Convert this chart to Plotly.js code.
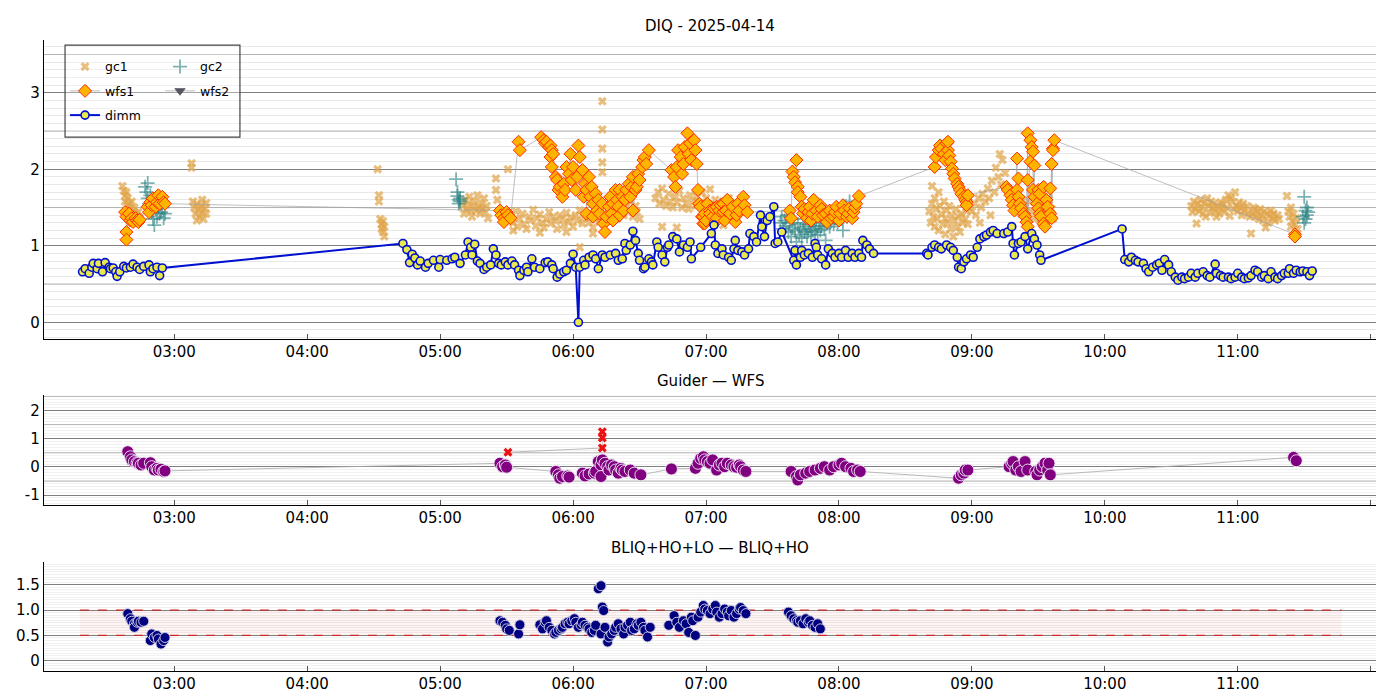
<!DOCTYPE html>
<html>
<head>
<meta charset="utf-8">
<script src="https://cdn.plot.ly/plotly-3.0.1.min.js"></script>
<style>
  html, body { margin: 0; padding: 0; background: #fff; }
  #chart { width: 1400px; height: 700px; }
</style>
</head>
<body>
<div id="chart"></div>
<script>
// times are decimal hours UT on 2025-04-14
const HOUR_TICKS = [3, 4, 5, 6, 7, 8, 9, 10, 11, 12]
const HOUR_LABELS = ['03:00', '04:00', '05:00', '06:00', '07:00', '08:00', '09:00', '10:00', '11:00', '']
const NIGHT = [2.29, 11.78]
const BLIQ_BAND = [0.5, 1.0]
const X_RANGE = [2.02, 12.04]

// [time, value]
const dimm = [
  [2.31, 0.66], [2.33, 0.70], [2.36, 0.64], [2.38, 0.72], [2.39, 0.77], [2.42, 0.70], [2.43, 0.77], [2.46, 0.66],
  [2.48, 0.78], [2.51, 0.72], [2.52, 0.70], [2.54, 0.71], [2.56, 0.66], [2.57, 0.60], [2.59, 0.66], [2.62, 0.73],
  [2.64, 0.71], [2.67, 0.72], [2.69, 0.76], [2.72, 0.72], [2.74, 0.69], [2.77, 0.73], [2.81, 0.75], [2.82, 0.66],
  [2.84, 0.70], [2.87, 0.72], [2.89, 0.61], [2.91, 0.71],
  [4.72, 1.03], [4.75, 0.95], [4.77, 0.78], [4.79, 0.89], [4.81, 0.84], [4.83, 0.75], [4.85, 0.80], [4.89, 0.72],
  [4.91, 0.77], [4.95, 0.81], [4.99, 0.72], [5.00, 0.82], [5.05, 0.81], [5.09, 0.83], [5.11, 0.85], [5.15, 0.77],
  [5.19, 0.88], [5.21, 1.05], [5.23, 0.98], [5.24, 0.88], [5.26, 1.02], [5.28, 0.80], [5.30, 0.77], [5.33, 0.69],
  [5.35, 0.72], [5.38, 0.75], [5.40, 0.96], [5.42, 0.88], [5.44, 0.77], [5.46, 0.75], [5.49, 0.79], [5.51, 0.75],
  [5.54, 0.80], [5.56, 0.75], [5.59, 0.68], [5.60, 0.61], [5.63, 0.68], [5.65, 0.72], [5.66, 0.66], [5.69, 0.83],
  [5.71, 0.72], [5.75, 0.70], [5.79, 0.78], [5.81, 0.79], [5.84, 0.75], [5.85, 0.70], [5.88, 0.59], [5.90, 0.63],
  [5.93, 0.66], [5.95, 0.68], [5.98, 0.77], [6.00, 0.89], [6.02, 0.72], [6.04, 0.00], [6.05, 0.72], [6.08, 0.81],
  [6.09, 0.75], [6.12, 0.85], [6.15, 0.88], [6.17, 0.83], [6.19, 0.70], [6.22, 0.88], [6.24, 0.85], [6.28, 0.88],
  [6.32, 0.90], [6.34, 0.81], [6.37, 0.83], [6.39, 1.03], [6.40, 0.94], [6.43, 1.01], [6.45, 1.19], [6.47, 1.07],
  [6.49, 0.90], [6.50, 0.81], [6.53, 0.70], [6.54, 0.72], [6.57, 0.83], [6.59, 0.79], [6.60, 0.75], [6.63, 1.05],
  [6.64, 0.98], [6.67, 0.88], [6.69, 0.79], [6.71, 0.98], [6.72, 1.01], [6.75, 1.12], [6.78, 1.09], [6.80, 0.92],
  [6.83, 1.01], [6.86, 0.98], [6.88, 1.05], [6.89, 0.83],
  [6.96, 0.98], [7.04, 1.16], [7.06, 1.27], [7.07, 1.01], [7.09, 0.90], [7.12, 0.96], [7.13, 0.88], [7.17, 0.85],
  [7.19, 0.81], [7.21, 0.96], [7.22, 1.07], [7.24, 0.94], [7.27, 0.92], [7.29, 0.88], [7.32, 0.96], [7.33, 1.16],
  [7.36, 1.12], [7.38, 1.05], [7.41, 1.40], [7.42, 1.25], [7.44, 1.12], [7.46, 1.33], [7.48, 1.38], [7.51, 1.51],
  [7.52, 1.03], [7.54, 1.05], [7.57, 1.18],
  [7.66, 0.81], [7.67, 0.94], [7.68, 0.75], [7.71, 0.85], [7.72, 0.94], [7.74, 0.88], [7.77, 0.90], [7.80, 0.85],
  [7.82, 1.03], [7.83, 0.98], [7.84, 0.88], [7.87, 0.83], [7.90, 0.75], [7.92, 0.96], [7.95, 0.90], [7.97, 0.85],
  [8.00, 0.90], [8.02, 0.85], [8.05, 0.94], [8.07, 0.85], [8.10, 0.90], [8.12, 0.85], [8.15, 0.90], [8.17, 0.85],
  [8.18, 1.07], [8.21, 1.01], [8.23, 0.96], [8.26, 0.90],
  [8.66, 0.90], [8.67, 0.88], [8.70, 0.98], [8.72, 1.01], [8.75, 0.98], [8.77, 0.96], [8.81, 1.01], [8.84, 0.98],
  [8.86, 0.94], [8.89, 0.85], [8.90, 0.72], [8.92, 0.70], [8.94, 0.79], [8.96, 0.83], [8.99, 0.88], [9.01, 0.85],
  [9.04, 0.98], [9.06, 1.09], [9.09, 1.12], [9.11, 1.14], [9.14, 1.18], [9.16, 1.20], [9.19, 1.16], [9.24, 1.16],
  [9.27, 1.18], [9.30, 1.25], [9.31, 1.03], [9.32, 0.88], [9.35, 1.03], [9.37, 1.05], [9.40, 1.12], [9.42, 0.96],
  [9.45, 1.16], [9.47, 1.09], [9.49, 1.01], [9.51, 0.88], [9.52, 0.81],
  [10.13, 1.22], [10.15, 0.82], [10.18, 0.79], [10.20, 0.85], [10.23, 0.81], [10.25, 0.79], [10.29, 0.77], [10.31, 0.70],
  [10.33, 0.66], [10.36, 0.72], [10.39, 0.75], [10.41, 0.77], [10.43, 0.68], [10.45, 0.82], [10.48, 0.75], [10.50, 0.66],
  [10.53, 0.59], [10.55, 0.55], [10.58, 0.59], [10.60, 0.57], [10.63, 0.59], [10.65, 0.64], [10.68, 0.59], [10.70, 0.64],
  [10.74, 0.66], [10.77, 0.61], [10.79, 0.59], [10.83, 0.76], [10.84, 0.64], [10.87, 0.61], [10.89, 0.59], [10.93, 0.59],
  [10.95, 0.57], [10.98, 0.59], [11.00, 0.64], [11.03, 0.59], [11.05, 0.57], [11.08, 0.58], [11.10, 0.61], [11.13, 0.68],
  [11.15, 0.66], [11.18, 0.59], [11.20, 0.61], [11.23, 0.57], [11.25, 0.66], [11.28, 0.59], [11.30, 0.57], [11.33, 0.61],
  [11.35, 0.64], [11.38, 0.64], [11.39, 0.70], [11.42, 0.64], [11.44, 0.68], [11.47, 0.66], [11.49, 0.67], [11.52, 0.66],
  [11.54, 0.61], [11.56, 0.67]
]

const gc1 = [
  [2.61, 1.78], [2.62, 1.72], [2.63, 1.65], [2.63, 1.58], [2.64, 1.70], [2.65, 1.62], [2.65, 1.52], [2.66, 1.55],
  [2.67, 1.48], [2.68, 1.58], [2.69, 1.45], [2.70, 1.50], [2.71, 1.42], [2.72, 1.38], [2.73, 1.44], [2.74, 1.36],
  [3.13, 2.08], [3.13, 2.02], [3.14, 1.58], [3.15, 1.50], [3.16, 1.42], [3.17, 1.55], [3.17, 1.33], [3.18, 1.47],
  [3.19, 1.38], [3.20, 1.52], [3.21, 1.44], [3.21, 1.60], [3.22, 1.35], [3.23, 1.49], [3.24, 1.56], [3.24, 1.42],
  [4.53, 2.00], [4.54, 1.66], [4.54, 1.58], [4.55, 1.35], [4.56, 1.28], [4.56, 1.22], [4.57, 1.32], [4.57, 1.18],
  [4.58, 1.25], [4.58, 1.12],
  [5.17, 1.52], [5.18, 1.42], [5.19, 1.60], [5.20, 1.48], [5.21, 1.55], [5.22, 1.64], [5.23, 1.45], [5.24, 1.38],
  [5.25, 1.52], [5.26, 1.58], [5.27, 1.46], [5.28, 1.66], [5.29, 1.50], [5.30, 1.42], [5.31, 1.55], [5.32, 1.48],
  [5.33, 1.62], [5.34, 1.44], [5.35, 1.52], [5.36, 1.36],
  [5.42, 1.88], [5.42, 1.73], [5.43, 1.60], [5.51, 2.00],
  [5.53, 1.38], [5.55, 1.30], [5.55, 1.20], [5.57, 1.45], [5.58, 1.25], [5.60, 1.35], [5.62, 1.42], [5.63, 1.28],
  [5.65, 1.22], [5.67, 1.38], [5.68, 1.33], [5.70, 1.47], [5.72, 1.26], [5.73, 1.36], [5.75, 1.41], [5.75, 1.17],
  [5.77, 1.30], [5.78, 1.24], [5.80, 1.35], [5.82, 1.44], [5.83, 1.29], [5.85, 1.38], [5.87, 1.32], [5.88, 1.22],
  [5.90, 1.40], [5.92, 1.35], [5.93, 1.27], [5.95, 1.43], [5.95, 1.18], [5.97, 1.31], [5.98, 1.37], [6.00, 1.25],
  [6.02, 1.40], [6.03, 1.33], [6.05, 1.46], [6.05, 0.98], [6.07, 1.29], [6.08, 1.36], [6.10, 1.42], [6.12, 1.30],
  [6.13, 1.38], [6.15, 1.24], [6.15, 1.16], [6.17, 1.35], [6.18, 1.45], [6.20, 1.32],
  [6.22, 2.89], [6.22, 2.52], [6.22, 2.27], [6.22, 2.09], [6.22, 1.96],
  [6.22, 1.40], [6.23, 1.28], [6.25, 1.36], [6.27, 1.43], [6.28, 1.31], [6.30, 1.38], [6.32, 1.48], [6.33, 1.35],
  [6.35, 1.42], [6.37, 1.55], [6.38, 1.40], [6.40, 1.50], [6.42, 1.45], [6.43, 1.58], [6.45, 1.38], [6.47, 1.52],
  [6.48, 1.44], [6.50, 1.35],
  [6.62, 1.62], [6.64, 1.70], [6.65, 1.55], [6.67, 1.75], [6.67, 1.25], [6.68, 1.60], [6.70, 1.52], [6.72, 1.68],
  [6.73, 1.58], [6.75, 1.50], [6.77, 1.64], [6.78, 1.57], [6.78, 1.24], [6.80, 1.72], [6.82, 1.50], [6.83, 1.62],
  [6.85, 1.55], [6.87, 1.48], [6.88, 1.66], [6.90, 1.58], [6.92, 1.52], [6.93, 1.64], [6.95, 1.56], [6.97, 1.70],
  [6.98, 1.48], [7.00, 1.62], [7.02, 1.55], [7.03, 1.74], [7.05, 1.50], [7.07, 1.60], [7.08, 1.42], [7.10, 1.52],
  [7.12, 1.35], [7.13, 1.27], [7.13, 1.58], [7.15, 1.46], [7.17, 1.62], [7.18, 1.40], [7.20, 1.55], [7.22, 1.48],
  [7.23, 1.38], [7.25, 1.52], [7.27, 1.44],
  [8.68, 1.45], [8.69, 1.30], [8.70, 1.55], [8.70, 1.78], [8.71, 1.38], [8.72, 1.62], [8.72, 1.25], [8.73, 1.48],
  [8.74, 1.35], [8.75, 1.70], [8.75, 1.20], [8.76, 1.52], [8.77, 1.42], [8.78, 1.28], [8.79, 1.58], [8.80, 1.36],
  [8.80, 1.15], [8.81, 1.46], [8.82, 1.30], [8.83, 1.52], [8.84, 1.22], [8.85, 1.40], [8.86, 1.12], [8.87, 1.33],
  [8.88, 1.48], [8.89, 1.25], [8.90, 1.38], [8.91, 1.18], [8.92, 1.42], [8.93, 1.30], [8.94, 1.55], [8.95, 1.35],
  [8.96, 1.45], [8.97, 1.28], [8.98, 1.50],
  [9.00, 1.45], [9.02, 1.55], [9.03, 1.40], [9.05, 1.62], [9.06, 1.30], [9.07, 1.50], [9.08, 1.68], [9.10, 1.58],
  [9.12, 1.75], [9.13, 1.62], [9.14, 1.40], [9.15, 1.85], [9.17, 1.70], [9.18, 2.02], [9.20, 1.90], [9.21, 2.20],
  [9.22, 1.80], [9.23, 2.12], [9.25, 1.95], [9.26, 1.75], [9.28, 1.68], [9.30, 1.55], [9.32, 1.62], [9.33, 1.48],
  [9.35, 1.55], [9.37, 1.42], [9.38, 1.60], [9.40, 1.50], [9.42, 1.38], [9.43, 1.58], [9.45, 1.45], [9.47, 1.35],
  [9.48, 1.52], [9.50, 1.42], [9.52, 1.30], [9.53, 1.55], [9.55, 1.45], [9.57, 1.38], [9.58, 1.60], [9.60, 1.48],
  [9.61, 1.35],
  [10.65, 1.52], [10.66, 1.44], [10.67, 1.58], [10.68, 1.48], [10.69, 1.29], [10.70, 1.55], [10.71, 1.45], [10.72, 1.60],
  [10.73, 1.50], [10.74, 1.42], [10.75, 1.56], [10.76, 1.38], [10.77, 1.62], [10.78, 1.52], [10.79, 1.43], [10.80, 1.58],
  [10.81, 1.49], [10.82, 1.55], [10.83, 1.45], [10.84, 1.38], [10.85, 1.51], [10.86, 1.42], [10.87, 1.57], [10.88, 1.48],
  [10.89, 1.54], [10.90, 1.44], [10.91, 1.60], [10.92, 1.50], [10.93, 1.66], [10.94, 1.39], [10.95, 1.62], [10.96, 1.58],
  [10.97, 1.48], [10.98, 1.70], [10.99, 1.52], [11.00, 1.45], [11.01, 1.57], [11.02, 1.49], [11.03, 1.40], [11.04, 1.55],
  [11.05, 1.46], [11.07, 1.52], [11.08, 1.43], [11.09, 1.38], [11.10, 1.16], [11.11, 1.41], [11.12, 1.50], [11.13, 1.47],
  [11.14, 1.38], [11.15, 1.44], [11.16, 1.35], [11.17, 1.48], [11.18, 1.40], [11.19, 1.33], [11.20, 1.45], [11.21, 1.24],
  [11.22, 1.42], [11.23, 1.30], [11.24, 1.39], [11.25, 1.46], [11.26, 1.36], [11.27, 1.42], [11.28, 1.33], [11.30, 1.40],
  [11.31, 1.35],
  [11.37, 1.65], [11.38, 1.45], [11.39, 1.38], [11.40, 1.50], [11.40, 1.25], [11.41, 1.32], [11.42, 1.42], [11.43, 1.28],
  [11.44, 1.36], [11.45, 1.22]
]

const gc2 = [
  [2.78, 1.77], [2.79, 1.70], [2.80, 1.82], [2.80, 1.62], [2.81, 1.55], [2.82, 1.66], [2.83, 1.44], [2.84, 1.35],
  [2.85, 1.27], [2.86, 1.48], [2.87, 1.38], [2.88, 1.52], [2.89, 1.42], [2.90, 1.44], [2.91, 1.50], [2.92, 1.36],
  [2.93, 1.42],
  [5.12, 1.87], [5.13, 1.70], [5.13, 1.65], [5.14, 1.60], [5.14, 1.55], [5.15, 1.62], [5.15, 1.58],
  [7.56, 1.30], [7.57, 1.38], [7.58, 1.22], [7.59, 1.33], [7.60, 1.26], [7.61, 1.40], [7.62, 1.18], [7.63, 1.30],
  [7.64, 1.12], [7.65, 1.24], [7.66, 1.35], [7.67, 1.20], [7.68, 1.05], [7.69, 1.28], [7.70, 1.15], [7.71, 1.22],
  [7.72, 1.10], [7.73, 1.30], [7.74, 1.18], [7.75, 1.25], [7.76, 1.12], [7.77, 1.20], [7.78, 1.28], [7.79, 1.15],
  [7.80, 1.22], [7.81, 1.32], [7.82, 1.18], [7.83, 1.25], [7.84, 1.14], [7.85, 1.30], [7.86, 1.20], [7.87, 1.26],
  [7.88, 1.35], [7.89, 1.22], [7.90, 1.07], [7.91, 1.30], [7.92, 1.38], [7.93, 1.25], [7.94, 1.32], [7.95, 1.42],
  [7.96, 1.28], [7.97, 1.36], [7.98, 1.45], [7.99, 1.30], [8.00, 1.40], [8.01, 1.48], [8.02, 1.35], [8.03, 1.20],
  [8.04, 1.42], [8.05, 1.52], [8.06, 1.38], [8.07, 1.46], [8.08, 1.58], [8.09, 1.44], [8.10, 1.50],
  [11.49, 1.38], [11.50, 1.64], [11.50, 1.30], [11.51, 1.46], [11.51, 1.35], [11.52, 1.40], [11.52, 1.50], [11.53, 1.44]
]

const wfs1 = [
  [2.63, 1.44], [2.64, 1.38], [2.64, 1.18], [2.64, 1.08], [2.66, 1.42], [2.67, 1.33], [2.68, 1.36], [2.69, 1.31],
  [2.71, 1.36], [2.72, 1.33], [2.73, 1.31], [2.74, 1.34],
  [2.80, 1.51], [2.81, 1.44], [2.82, 1.57], [2.83, 1.53], [2.84, 1.62], [2.86, 1.51], [2.87, 1.57], [2.88, 1.66],
  [2.89, 1.55], [2.91, 1.64], [2.92, 1.57], [2.93, 1.55],
  [5.45, 1.46], [5.46, 1.40], [5.48, 1.36], [5.48, 1.31], [5.50, 1.44], [5.51, 1.40], [5.53, 1.36], [5.59, 2.36],
  [5.60, 2.25],
  [5.76, 2.42], [5.78, 2.38], [5.79, 2.34], [5.80, 2.36], [5.82, 2.29], [5.83, 2.31], [5.83, 2.16], [5.84, 2.25],
  [5.84, 2.03], [5.85, 2.20], [5.87, 1.90], [5.88, 1.86], [5.89, 1.73], [5.90, 1.77], [5.92, 1.64], [5.93, 1.81],
  [5.94, 1.73], [5.95, 2.03], [5.97, 1.94], [5.98, 2.20], [5.99, 1.86], [6.00, 2.03], [6.02, 1.73], [6.03, 1.90],
  [6.04, 2.31], [6.05, 2.16], [6.07, 1.99], [6.08, 1.64], [6.09, 1.81], [6.10, 1.73], [6.10, 1.42], [6.12, 1.90],
  [6.13, 1.64], [6.14, 1.77], [6.15, 1.55], [6.15, 1.38], [6.17, 1.68], [6.18, 1.46], [6.19, 1.60], [6.20, 1.42],
  [6.22, 1.55], [6.23, 1.29], [6.24, 1.18], [6.25, 1.38], [6.27, 1.51], [6.28, 1.64], [6.29, 1.42], [6.30, 1.55],
  [6.30, 1.33], [6.32, 1.73], [6.33, 1.60], [6.34, 1.51], [6.35, 1.73], [6.35, 1.40], [6.37, 1.64], [6.38, 1.46],
  [6.39, 1.60], [6.40, 1.73], [6.42, 1.81], [6.43, 1.64], [6.44, 1.77], [6.45, 1.90], [6.45, 1.46], [6.47, 1.73],
  [6.48, 1.77], [6.49, 1.94], [6.50, 1.86], [6.52, 2.03], [6.53, 2.12], [6.54, 2.16], [6.55, 2.07], [6.57, 2.25],
  [6.74, 1.99], [6.76, 1.90], [6.77, 1.77], [6.78, 2.03], [6.79, 2.25], [6.81, 2.16], [6.82, 1.94], [6.83, 2.07],
  [6.84, 2.29], [6.86, 2.47], [6.87, 2.20], [6.88, 2.34], [6.89, 2.12], [6.91, 2.38], [6.92, 2.25], [6.93, 2.07],
  [6.94, 1.73], [6.95, 1.55], [6.96, 1.51], [6.97, 1.38], [6.98, 1.29], [6.98, 1.38], [6.99, 1.42], [6.99, 1.29],
  [7.00, 1.33], [7.01, 1.55], [7.03, 1.46], [7.03, 1.42], [7.05, 1.38], [7.06, 1.49], [7.07, 1.31], [7.08, 1.51],
  [7.08, 1.36], [7.10, 1.46], [7.11, 1.53], [7.13, 1.55], [7.13, 1.44], [7.14, 1.33], [7.15, 1.46], [7.16, 1.60],
  [7.18, 1.42], [7.20, 1.51], [7.22, 1.31], [7.23, 1.40], [7.24, 1.55], [7.25, 1.46], [7.28, 1.64], [7.29, 1.53],
  [7.31, 1.44],
  [7.63, 1.46], [7.64, 1.36], [7.65, 1.97], [7.66, 1.90], [7.67, 1.83], [7.68, 2.12], [7.69, 1.77], [7.69, 1.70],
  [7.71, 1.64], [7.72, 1.51], [7.73, 1.42], [7.74, 1.48], [7.76, 1.36], [7.77, 1.44], [7.78, 1.51], [7.79, 1.33],
  [7.80, 1.42], [7.81, 1.60], [7.83, 1.46], [7.84, 1.38], [7.86, 1.53], [7.87, 1.48], [7.88, 1.40], [7.90, 1.42],
  [7.91, 1.31], [7.93, 1.46], [7.94, 1.36], [7.96, 1.38], [7.97, 1.44], [7.98, 1.51], [8.00, 1.33], [8.01, 1.42],
  [8.03, 1.53], [8.04, 1.46], [8.06, 1.38], [8.07, 1.42], [8.08, 1.49], [8.10, 1.36], [8.11, 1.44], [8.12, 1.50],
  [8.13, 1.55], [8.15, 1.65],
  [8.72, 2.03], [8.73, 2.16], [8.75, 2.25], [8.76, 2.31], [8.77, 2.27], [8.79, 2.20], [8.80, 2.12], [8.81, 2.34],
  [8.82, 2.25], [8.82, 2.36], [8.83, 2.18], [8.84, 2.10], [8.85, 2.01], [8.86, 1.94], [8.87, 1.88], [8.89, 1.81],
  [8.90, 1.77], [8.91, 1.73], [8.92, 1.68], [8.94, 1.64], [8.95, 1.60], [8.96, 1.57], [8.96, 1.53], [8.97, 1.66],
  [9.26, 1.77], [9.27, 1.73], [9.29, 1.66], [9.30, 1.60], [9.31, 1.53], [9.32, 1.46], [9.34, 2.14], [9.34, 1.73],
  [9.35, 1.88], [9.35, 1.64], [9.36, 1.55], [9.37, 1.49], [9.39, 1.42], [9.40, 1.38], [9.41, 1.31], [9.42, 2.47],
  [9.42, 1.86], [9.42, 1.25], [9.44, 2.38], [9.44, 2.10], [9.45, 2.29], [9.46, 2.23], [9.46, 1.73], [9.47, 2.05],
  [9.47, 1.64], [9.49, 1.55], [9.50, 1.73], [9.50, 1.49], [9.51, 1.68], [9.51, 1.42], [9.52, 1.38], [9.54, 1.77],
  [9.54, 1.29], [9.55, 1.25], [9.56, 1.60], [9.57, 1.51], [9.59, 1.75], [9.59, 1.42], [9.60, 2.07], [9.60, 1.36],
  [9.61, 2.27], [9.61, 2.25], [9.62, 2.38],
  [11.43, 1.15], [11.43, 1.12]
]

// Guider - WFS difference
const guiderWfs = [
  [2.65, 0.54], [2.67, 0.36], [2.68, 0.25], [2.70, 0.19], [2.72, 0.15], [2.73, 0.13], [2.75, 0.07], [2.77, 0.13],
  [2.82, 0.15], [2.83, 0.01], [2.85, -0.11], [2.87, -0.05], [2.88, -0.11], [2.90, -0.08], [2.92, -0.16], [2.93, -0.14],
  [5.45, 0.13], [5.47, 0.01], [5.49, 0.07], [5.50, -0.01],
  [5.87, -0.16], [5.89, -0.28], [5.90, -0.40], [5.92, -0.34], [5.96, -0.32], [5.97, -0.36], [6.07, -0.22], [6.09, -0.32],
  [6.12, -0.25], [6.16, -0.22], [6.17, -0.16], [6.19, 0.19], [6.21, 0.07], [6.21, -0.34], [6.22, 0.25], [6.24, 0.13],
  [6.26, 0.01], [6.27, -0.11], [6.29, 0.07], [6.31, 0.01], [6.32, -0.11], [6.34, -0.22], [6.36, -0.05], [6.37, -0.11],
  [6.39, -0.16], [6.43, -0.11], [6.46, -0.22], [6.51, -0.28],
  [6.74, -0.07],
  [6.92, -0.05], [6.94, 0.13], [6.96, 0.30], [6.98, 0.36], [6.99, 0.25], [7.01, 0.19], [7.03, 0.13], [7.05, 0.25],
  [7.08, -0.11], [7.10, 0.07], [7.12, 0.13], [7.14, 0.01], [7.16, 0.13], [7.19, 0.07], [7.21, 0.01], [7.23, -0.01],
  [7.25, 0.07], [7.26, 0.01], [7.28, -0.11], [7.30, -0.16],
  [7.64, -0.16], [7.68, -0.34], [7.69, -0.46], [7.71, -0.28], [7.75, -0.22], [7.78, -0.16], [7.82, -0.11], [7.86, -0.05],
  [7.89, 0.01], [7.93, -0.11], [7.96, 0.01], [8.00, 0.07], [8.02, 0.13], [8.05, 0.01], [8.09, -0.05], [8.11, -0.16],
  [8.14, -0.11], [8.16, -0.16],
  [8.90, -0.40], [8.92, -0.28], [8.94, -0.22], [8.95, -0.11], [8.97, -0.11],
  [9.28, 0.01], [9.30, 0.13], [9.31, 0.19], [9.33, -0.11], [9.35, 0.01], [9.37, -0.16], [9.40, 0.19], [9.42, -0.11],
  [9.48, -0.16], [9.49, -0.28], [9.51, -0.11], [9.53, 0.01], [9.55, 0.13], [9.57, -0.11], [9.58, 0.13], [9.59, -0.28],
  [11.42, 0.34], [11.44, 0.22]
]
const guiderFlagged = [
  [5.51, 0.52], [6.22, 0.67], [6.22, 1.03], [6.22, 1.25]
]

// BLIQ+HO+LO / BLIQ+HO ratio
const bliqRatio = [
  [2.65, 0.93], [2.67, 0.83], [2.68, 0.78], [2.70, 0.73], [2.70, 0.66], [2.72, 0.76], [2.73, 0.78], [2.75, 0.76],
  [2.77, 0.78], [2.82, 0.40], [2.83, 0.53], [2.85, 0.46], [2.87, 0.50], [2.88, 0.43], [2.90, 0.33], [2.92, 0.40],
  [2.93, 0.46],
  [5.45, 0.79], [5.47, 0.76], [5.49, 0.70], [5.50, 0.63], [5.52, 0.60], [5.59, 0.53], [5.60, 0.71],
  [5.75, 0.71], [5.77, 0.63], [5.79, 0.76], [5.80, 0.79], [5.82, 0.66], [5.84, 0.60], [5.86, 0.53], [5.87, 0.56],
  [5.89, 0.60], [5.91, 0.63], [5.92, 0.66], [5.94, 0.73], [5.96, 0.76], [5.97, 0.73], [5.99, 0.79], [6.01, 0.83],
  [6.02, 0.76], [6.04, 0.66], [6.06, 0.71], [6.07, 0.76], [6.09, 0.70], [6.11, 0.66], [6.12, 0.63], [6.14, 0.56],
  [6.16, 0.60], [6.17, 0.70], [6.19, 1.42], [6.21, 1.48], [6.21, 0.53], [6.22, 1.06], [6.23, 0.99], [6.24, 0.66],
  [6.26, 0.37], [6.27, 0.47], [6.29, 0.53], [6.31, 0.60], [6.32, 0.66], [6.34, 0.73], [6.36, 0.63], [6.38, 0.53],
  [6.39, 0.66], [6.41, 0.70], [6.43, 0.76], [6.44, 0.60], [6.46, 0.63], [6.48, 0.73], [6.49, 0.70], [6.51, 0.76],
  [6.53, 0.66], [6.54, 0.60], [6.56, 0.47], [6.58, 0.66],
  [6.72, 0.70], [6.76, 0.89], [6.78, 0.76], [6.80, 0.66], [6.83, 0.79], [6.85, 0.73], [6.87, 0.56], [6.89, 0.86],
  [6.90, 0.79], [6.92, 0.50], [6.94, 0.86], [6.96, 0.96], [6.98, 1.09], [6.99, 1.02], [7.01, 0.99], [7.03, 0.93],
  [7.05, 1.02], [7.07, 1.09], [7.08, 0.96], [7.10, 0.86], [7.12, 0.93], [7.14, 1.02], [7.16, 0.96], [7.17, 0.89],
  [7.19, 0.99], [7.21, 0.86], [7.23, 0.93], [7.25, 1.02], [7.26, 1.05], [7.28, 0.99], [7.30, 0.93],
  [7.62, 0.96], [7.64, 0.89], [7.66, 0.83], [7.68, 0.79], [7.69, 0.76], [7.71, 0.79], [7.73, 0.73], [7.75, 0.83],
  [7.77, 0.76], [7.78, 0.79], [7.80, 0.70], [7.82, 0.66], [7.84, 0.73], [7.86, 0.63]
]

const xs = arr => arr.map(p => p[0])
const ys = arr => arr.map(p => p[1])

const FONT = 'DejaVu Sans, Verdana, sans-serif'
const GRID_MAJOR = '#7f7f7f'
const GRID_HALF = '#b3b3b3'
const LINK_GREY = 'rgba(160,160,160,0.75)'

// lighter rules on the half units between labelled ticks, drawn under the data
const halfRules = (ax, levels) => levels.map(v => ({
  x: X_RANGE, y: [v, v], xaxis: 'x' + ax, yaxis: 'y' + ax,
  type: 'scatter', mode: 'lines', showlegend: false, hoverinfo: 'skip',
  line: { color: GRID_HALF, width: 1 }
}))

const traces = [
  ...halfRules('', [0.5, 1.5, 2.5, 3.5]),
  ...halfRules('2', [-0.5, 0.5, 1.5, 2.5]),
  {
    name: 'gc1', x: xs(gc1), y: ys(gc1), xaxis: 'x', yaxis: 'y',
    type: 'scatter', mode: 'markers', legend: 'legend', legendgroup: 'gc1',
    marker: { symbol: 'x', size: 8, color: 'rgba(224,164,72,0.7)', line: { width: 0 } }
  },
  {
    name: 'gc2', x: xs(gc2), y: ys(gc2), xaxis: 'x', yaxis: 'y',
    type: 'scatter', mode: 'markers', legend: 'legend2', legendgroup: 'gc2',
    marker: { symbol: 'cross-thin', size: 10, color: 'rgba(40,128,128,0.6)', line: { color: 'rgba(40,128,128,0.6)', width: 1.8 } }
  },
  {
    name: 'wfs1', x: xs(wfs1), y: ys(wfs1), xaxis: 'x', yaxis: 'y',
    type: 'scatter', mode: 'lines+markers', legend: 'legend', legendgroup: 'wfs1',
    line: { color: LINK_GREY, width: 0.9 },
    marker: { symbol: 'diamond', size: 10, color: '#ffb400', line: { color: '#ff2a00', width: 1 } }
  },
  {
    name: 'wfs2', x: [null], y: [null], xaxis: 'x', yaxis: 'y',
    type: 'scatter', mode: 'lines+markers', legend: 'legend2', legendgroup: 'wfs2',
    line: { color: LINK_GREY, width: 0.9 },
    marker: { symbol: 'triangle-down', size: 9, color: '#555566', line: { color: '#333', width: 0.5 } }
  },
  {
    name: 'dimm', x: xs(dimm), y: ys(dimm), xaxis: 'x', yaxis: 'y',
    type: 'scatter', mode: 'lines+markers', legend: 'legend', legendgroup: 'dimm',
    line: { color: '#0010d0', width: 2 },
    marker: { symbol: 'circle', size: 8, color: '#e9e94c', line: { color: '#0010d0', width: 1.6 } }
  },
  // middle panel
  {
    name: 'guider-wfs', x: xs(guiderWfs), y: ys(guiderWfs), xaxis: 'x2', yaxis: 'y2',
    type: 'scatter', mode: 'lines+markers', showlegend: false,
    line: { color: 'rgba(170,170,170,0.8)', width: 1 },
    marker: { symbol: 'circle', size: 12, color: '#800080', line: { color: 'rgba(235,225,240,0.95)', width: 1 } }
  },
  {
    name: 'flagged', x: xs(guiderFlagged), y: ys(guiderFlagged), xaxis: 'x2', yaxis: 'y2',
    type: 'scatter', mode: 'lines+markers', showlegend: false,
    line: { color: 'rgba(170,170,170,0.8)', width: 1 },
    marker: { symbol: 'x', size: 8, color: '#ee1111', line: { width: 0 } }
  },
  // bottom panel: expected band
  {
    x: NIGHT, y: [BLIQ_BAND[0], BLIQ_BAND[0]], xaxis: 'x3', yaxis: 'y3',
    type: 'scatter', mode: 'lines', showlegend: false, hoverinfo: 'skip',
    line: { color: '#c62828', width: 1.2, dash: 'dash' }
  },
  {
    x: NIGHT, y: [BLIQ_BAND[1], BLIQ_BAND[1]], xaxis: 'x3', yaxis: 'y3',
    type: 'scatter', mode: 'lines', showlegend: false, hoverinfo: 'skip',
    fill: 'tonexty', fillcolor: 'rgba(255,60,60,0.06)',
    line: { color: '#c62828', width: 1.2, dash: 'dash' }
  },
  {
    name: 'ratio', x: xs(bliqRatio), y: ys(bliqRatio), xaxis: 'x3', yaxis: 'y3',
    type: 'scatter', mode: 'markers', showlegend: false,
    marker: { symbol: 'circle', size: 10, color: '#000080', line: { color: '#c8c8e0', width: 1 } }
  }
]

const xBase = {
  range: X_RANGE,
  tickmode: 'array', tickvals: HOUR_TICKS, ticktext: HOUR_LABELS,
  ticks: 'inside', ticklen: 5, tickcolor: '#555', ticklabelstandoff: -1,
  showline: true, linecolor: '#000', linewidth: 1.2,
  showgrid: false, zeroline: false,
  tickfont: { size: 15, color: '#000' }
}

function yAxis (domain, range, vals, labels, minorStep, minorColor, anchor) {
  return {
    domain: domain, range: range, anchor: anchor,
    tickmode: 'array', tickvals: vals, ticktext: labels,
    ticks: '', showline: true, linecolor: '#000', linewidth: 1.2,
    zeroline: false, gridcolor: GRID_MAJOR, gridwidth: 1,
    minor: { dtick: minorStep, tick0: 0, showgrid: true, gridcolor: minorColor, gridwidth: 0.8, ticks: '' },
    tickfont: { size: 15, color: '#000' }
  }
}

const panelTitle = (text, y) => ({
  text: text, xref: 'paper', yref: 'paper', x: 0.5, y: y,
  xanchor: 'center', yanchor: 'bottom', yshift: 3, showarrow: false,
  font: { size: 15, color: '#000' }
})

const layout = {
  width: 1400,
  height: 700,
  margin: { l: 44, r: 24, t: 40, b: 29 },
  paper_bgcolor: '#fff',
  plot_bgcolor: '#fff',
  font: { family: FONT, color: '#000' },
  xaxis: Object.assign({}, xBase, { anchor: 'y' }),
  xaxis2: Object.assign({}, xBase, { anchor: 'y2' }),
  xaxis3: Object.assign({}, xBase, { anchor: 'y3' }),
  yaxis: yAxis([0.526, 1], [-0.22, 3.69], [0, 1, 2, 3], ['0', '1', '2', '3'], 0.1, '#e2e2e2', 'x'),
  yaxis2: yAxis([0.263, 0.437], [-1.35, 2.54], [-1, 0, 1, 2], ['-1', '0', '1', '2'], 0.1, '#ededed', 'x2'),
  yaxis3: yAxis([0, 0.173], [-0.2, 1.95], [0, 0.5, 1, 1.5], ['0', '0.5', '1.0', '1.5'], 0.05, '#ececec', 'x3'),
  showlegend: true,
  legend: {
    x: 0.0158, y: 0.981, xanchor: 'left', yanchor: 'top',
    bgcolor: 'rgba(0,0,0,0)', borderwidth: 0,
    traceorder: 'grouped', tracegroupgap: 5,
    font: { size: 12.5, color: '#000' }
  },
  legend2: {
    x: 0.0871, y: 0.981, xanchor: 'left', yanchor: 'top',
    bgcolor: 'rgba(0,0,0,0)', borderwidth: 0,
    traceorder: 'grouped', tracegroupgap: 5,
    font: { size: 12.5, color: '#000' }
  },
  shapes: [
    {
      type: 'rect', xref: 'paper', yref: 'paper',
      x0: 0.0158, x1: 0.1471, y0: 0.846, y1: 0.992,
      line: { color: '#444', width: 1.2 }, fillcolor: 'rgba(255,255,255,0.3)', layer: 'above'
    }
  ],
  annotations: [
    panelTitle('DIQ - 2025-04-14', 1),
    panelTitle('Guider \u2014 WFS', 0.437),
    panelTitle('BLIQ+HO+LO \u2014 BLIQ+HO', 0.173)
  ]
}

Plotly.newPlot('chart', traces, layout, { staticPlot: true, displayModeBar: false })
</script>
</body>
</html>
